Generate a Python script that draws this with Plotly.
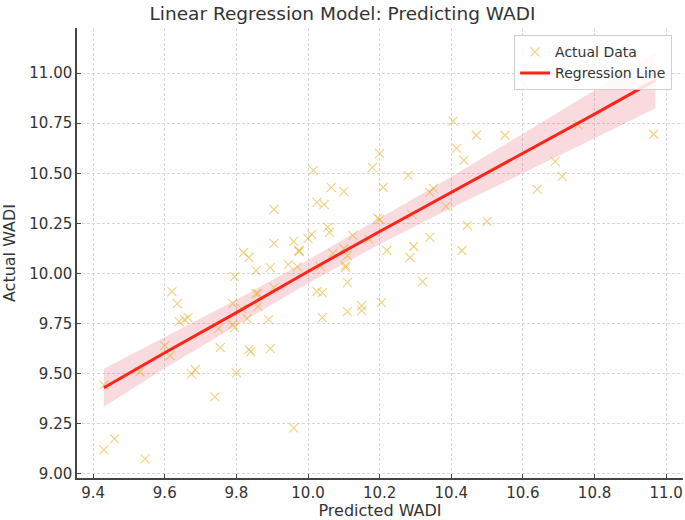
import plotly.graph_objects as go

# predicted vs actual WADI
pred = [9.43, 9.43, 9.46, 9.545, 9.53, 9.62, 9.635, 9.64, 9.665, 9.655,
        9.60, 9.615, 9.675, 9.685, 9.74, 9.755, 9.75, 9.80, 9.795, 9.79,
        9.79, 9.795, 9.815, 9.82, 9.835, 9.83, 9.835, 9.84, 9.855, 9.855,
        9.86, 9.86, 9.895, 9.89, 9.895, 9.905, 9.945, 9.97, 9.975, 9.96,
        10.025, 10.04, 10.04, 10.07, 10.105, 10.105, 10.11, 10.11, 10.15, 10.15,
        10.11, 10.205, 10.20, 10.18, 10.21, 10.015, 10.065, 10.10, 10.025, 10.045,
        9.905, 10.195, 10.20, 10.055, 10.06, 10.01, 10.0, 10.125, 10.22, 9.96,
        9.975, 9.905, 10.10, 10.17, 10.035, 10.405, 10.47, 10.55, 10.415, 10.435,
        10.28, 10.34, 10.35, 10.385, 10.29, 10.445, 10.50, 10.34, 10.295, 10.285,
        10.43, 10.32, 10.69, 10.71, 10.64, 10.60, 10.755, 10.965]
actual = [9.445, 9.12, 9.175, 9.075, 9.51, 9.91, 9.85, 9.76, 9.78, 9.77,
          9.64, 9.59, 9.50, 9.52, 9.385, 9.63, 9.725, 9.505, 9.985, 9.85,
          9.745, 9.73, 9.825, 10.105, 10.08, 9.775, 9.62, 9.61, 10.015, 9.90,
          9.90, 9.835, 10.03, 9.77, 9.625, 9.93, 10.045, 10.035, 10.11, 9.23,
          9.91, 9.905, 9.78, 10.10, 10.04, 10.03, 9.955, 9.81, 9.84, 9.815,
          10.09, 9.855, 10.60, 10.53, 10.43, 10.515, 10.43, 10.41, 10.355, 10.345,
          10.32, 10.275, 10.27, 10.23, 10.205, 10.195, 10.175, 10.19, 10.115, 10.16,
          10.115, 10.15, 10.125, 10.17, 10.035, 10.76, 10.69, 10.69, 10.625, 10.565,
          10.49, 10.405, 10.425, 10.335, 10.295, 10.24, 10.26, 10.18, 10.135, 10.08,
          10.115, 9.96, 10.56, 10.485, 10.42, 10.95, 10.74, 10.695]

# regression line and its confidence band
line_x = [9.43, 9.6, 9.8, 10.0, 10.2, 10.4, 10.6, 10.8, 10.97]
line_y = [9.43, 9.605, 9.805, 10.01, 10.21, 10.405, 10.60, 10.795, 10.965]
band_lo = [9.335, 9.527, 9.741, 9.952, 10.146, 10.327, 10.502, 10.675, 10.825]
band_hi = [9.525, 9.683, 9.869, 10.068, 10.274, 10.483, 10.698, 10.915, 11.105]

fig = go.Figure()

fig.add_trace(go.Scatter(
    x=line_x + line_x[::-1], y=band_hi + band_lo[::-1],
    mode="lines", fill="toself", fillcolor="rgba(225,70,95,0.2)",
    line=dict(width=0), hoverinfo="skip", showlegend=False))

fig.add_trace(go.Scatter(
    x=pred, y=actual, mode="markers", name="Actual Data",
    marker=dict(symbol="x-thin-open", size=9,
                line=dict(width=1.1, color="rgba(225,180,45,0.6)"),
                color="rgba(225,180,45,0.6)")))

fig.add_trace(go.Scatter(
    x=line_x, y=line_y, mode="lines", name="Regression Line",
    line=dict(color="#ff2418", width=3)))

grid = dict(showgrid=True, gridcolor="#d6d6d6", griddash="3px,2px",
            showline=True, linecolor="#444444", linewidth=1.5,
            ticks="inside", ticklen=4, tickcolor="#444444", zeroline=False)

fig.update_layout(
    width=685, height=520,
    margin=dict(l=77, r=2, t=28, b=42),
    paper_bgcolor="white", plot_bgcolor="white",
    font=dict(family="DejaVu Sans", size=15, color="#333333"),
    title=dict(text="Linear Regression Model: Predicting WADI",
               x=0.5, xanchor="center", y=0.974, yanchor="middle",
               font=dict(size=18.5, color="#333333")),
    legend=dict(x=0.982, y=0.984, xanchor="right", yanchor="top",
                bgcolor="rgba(255,255,255,0.85)", bordercolor="#d0d0d0",
                borderwidth=1, font=dict(size=14)),
    xaxis=dict(title=dict(text="Predicted WADI", font=dict(size=16), standoff=4),
               range=[9.355, 11.047], tickvals=[9.4, 9.6, 9.8, 10.0, 10.2, 10.4, 10.6, 10.8, 11.0],
               tickformat=".1f", **grid),
    yaxis=dict(title=dict(text="Actual WADI", font=dict(size=16), standoff=12),
               range=[8.98, 11.225], tickvals=[9.0, 9.25, 9.5, 9.75, 10.0, 10.25, 10.5, 10.75, 11.0],
               tickformat=".2f", **grid),
)

# drop the default 8px page margin so the figure fills the window
fig.write_html("out.html", config={"displayModeBar": False},
               post_script="document.body.style.margin='0';")
